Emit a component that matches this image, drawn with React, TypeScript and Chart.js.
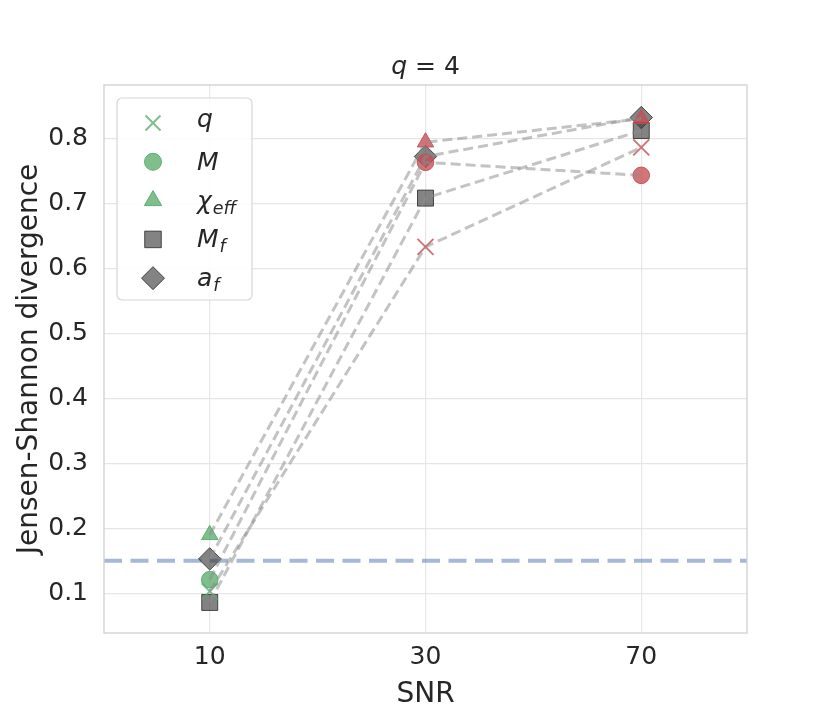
import React, { useEffect, useRef } from "react";
import { Chart, registerables } from "chart.js";

Chart.register(...registerables);

// ---- data ----
const snrLabels = ["10", "30", "70"];
const snrPositions = [0, 1, 2];
const qValues = [0.103, 0.633, 0.786];
const mValues = [0.121, 0.763, 0.743];
const chiValues = [0.19, 0.794, 0.83];
const mfValues = [0.086, 0.708, 0.812];
const afValues = [0.153, 0.772, 0.832];
// marker colour code per SNR point: g = green, r = red, k = gray
const qCodes = ["g", "r", "r"];
const mCodes = ["g", "r", "r"];
const chiCodes = ["g", "r", "r"];
const mfCodes = ["k", "k", "k"];
const afCodes = ["k", "k", "k"];
const threshold = 0.15;
const yTickValues = [0.1, 0.2, 0.3, 0.4, 0.5, 0.6, 0.7, 0.8];
const titleMain = "q";
const titleRest = "= 4";
const xTitle = "SNR";
const yTitle = "Jensen-Shannon divergence";

// ---- styles ----
const FONT = "'DejaVu Sans'";
const TEXT = "#262626";
const fill: Record<string, string> = {
  g: "rgba(85,168,104,0.75)",
  r: "rgba(196,78,82,0.78)",
  k: "rgba(64,64,64,0.65)",
};
const edge: Record<string, string> = {
  g: "rgba(85,168,104,0.9)",
  r: "rgba(196,78,82,0.9)",
  k: "rgba(40,40,40,0.8)",
};
const X_MIN = -0.49;
const X_MAX = 2.49;

type Series = {
  main: string;
  sub: string;
  values: number[];
  codes: string[];
  style: string;
  radius: number;
  legendCode: string;
};
const series: Series[] = [
  { main: "q", sub: "", values: qValues, codes: qCodes, style: "crossRot", radius: 11.3, legendCode: "g" },
  { main: "M", sub: "", values: mValues, codes: mCodes, style: "circle", radius: 8.3, legendCode: "g" },
  { main: "\u03C7", sub: "eff", values: chiValues, codes: chiCodes, style: "triangle", radius: 9.5, legendCode: "g" },
  { main: "M", sub: "f", values: mfValues, codes: mfCodes, style: "rect", radius: 11.3, legendCode: "k" },
  { main: "a", sub: "f", values: afValues, codes: afCodes, style: "rectRot", radius: 11.2, legendCode: "k" },
];

function drawMarker(ctx: CanvasRenderingContext2D, style: string, r: number, x: number, y: number, code: string) {
  ctx.save();
  ctx.fillStyle = fill[code];
  ctx.strokeStyle = edge[code];
  ctx.lineWidth = 1;
  ctx.beginPath();
  if (style === "circle") {
    ctx.arc(x, y, r, 0, Math.PI * 2);
    ctx.fill();
    ctx.stroke();
  } else if (style === "rect") {
    const s = Math.SQRT1_2 * r;
    ctx.rect(x - s, y - s, 2 * s, 2 * s);
    ctx.fill();
    ctx.stroke();
  } else if (style === "rectRot") {
    ctx.moveTo(x - r, y);
    ctx.lineTo(x, y - r);
    ctx.lineTo(x + r, y);
    ctx.lineTo(x, y + r);
    ctx.closePath();
    ctx.fill();
    ctx.stroke();
  } else if (style === "triangle") {
    let a = 0;
    ctx.moveTo(x + Math.sin(a) * r, y - Math.cos(a) * r);
    a += (2 * Math.PI) / 3;
    ctx.lineTo(x + Math.sin(a) * r, y - Math.cos(a) * r);
    a += (2 * Math.PI) / 3;
    ctx.lineTo(x + Math.sin(a) * r, y - Math.cos(a) * r);
    ctx.closePath();
    ctx.fill();
    ctx.stroke();
  } else {
    const o = Math.SQRT1_2 * r;
    ctx.strokeStyle = fill[code];
    ctx.lineWidth = 2;
    ctx.moveTo(x - o, y - o);
    ctx.lineTo(x + o, y + o);
    ctx.moveTo(x - o, y + o);
    ctx.lineTo(x + o, y - o);
    ctx.stroke();
  }
  ctx.restore();
}

const decorPlugin = {
  id: "decor",
  afterDatasetsDraw(chart: any) {
    const ctx: CanvasRenderingContext2D = chart.ctx;
    const { left, right, top, bottom } = chart.chartArea;
    ctx.save();
    // frame
    ctx.strokeStyle = "#cfcfcf";
    ctx.lineWidth = 1.3;
    ctx.strokeRect(left, top, right - left, bottom - top);

    // title
    ctx.fillStyle = TEXT;
    ctx.textBaseline = "alphabetic";
    ctx.font = `italic 25px ${FONT}`;
    const w1 = ctx.measureText(titleMain).width;
    ctx.font = `25px ${FONT}`;
    const gap = 8;
    const w2 = ctx.measureText(titleRest).width;
    const cx = (left + right) / 2;
    const tx = cx - (w1 + gap + w2) / 2;
    ctx.font = `italic 25px ${FONT}`;
    ctx.textAlign = "left";
    ctx.fillText(titleMain, tx, top - 11);
    ctx.font = `25px ${FONT}`;
    ctx.fillText(titleRest, tx + w1 + gap, top - 11);

    // axis titles
    ctx.font = `28px ${FONT}`;
    ctx.textAlign = "center";
    ctx.fillText(xTitle, cx, 702);
    ctx.save();
    ctx.translate(37, (top + bottom) / 2);
    ctx.rotate(-Math.PI / 2);
    ctx.fillText(yTitle, 0, 0);
    ctx.restore();

    // legend
    const lx = left + 13;
    const ly = top + 13;
    const lw = 135;
    const lh = 202;
    ctx.beginPath();
    (ctx as any).roundRect(lx, ly, lw, lh, 5);
    ctx.fillStyle = "rgba(255,255,255,0.85)";
    ctx.fill();
    ctx.strokeStyle = "#d6d6d6";
    ctx.lineWidth = 1.2;
    ctx.stroke();
    const step = 38.8;
    series.forEach((s, i) => {
      const y = ly + 25 + i * step;
      const mr = s.style === "rectRot" ? 11.5 : s.style === "triangle" ? 10 : s.style === "circle" ? 8.5 : s.style === "rect" ? 11.7 : 10.6;
      drawMarker(ctx, s.style, mr, lx + 36, y, s.legendCode);
      ctx.fillStyle = TEXT;
      ctx.textAlign = "left";
      ctx.font = `italic 25px ${FONT}`;
      const base = y + (s.main === "q" ? 4 : 8);
      const tx0 = lx + 80;
      ctx.fillText(s.main, tx0, base);
      if (s.sub) {
        const mw = ctx.measureText(s.main).width;
        ctx.font = `italic 17.5px ${FONT}`;
        ctx.fillText(s.sub, tx0 + mw + 1, base + 5);
      }
    });
    ctx.restore();
  },
};

export default function App() {
  const ref = useRef<HTMLCanvasElement>(null);
  useEffect(() => {
    document.body.style.margin = "0";
    Chart.defaults.font.family = FONT;
    Chart.defaults.color = TEXT;

    const lineSets = series.map((s) => ({
      data: snrPositions.map((x, i) => ({ x, y: s.values[i] })),
      showLine: true,
      borderColor: "rgba(140,140,140,0.52)",
      borderWidth: 3,
      borderDash: [10, 5],
      pointRadius: 0,
      pointHoverRadius: 0,
      fill: false,
      order: 0,
    }));
    const markerSets = series.map((s) => ({
      data: snrPositions.map((x, i) => ({ x, y: s.values[i] })),
      showLine: false,
      pointStyle: s.style,
      pointRadius: s.radius,
      pointHoverRadius: s.radius,
      pointBackgroundColor: s.codes.map((c) => fill[c]),
      pointBorderColor: s.codes.map((c) => (s.style === "crossRot" ? fill[c] : edge[c])),
      pointBorderWidth: s.style === "crossRot" ? 2 : 1,
      order: 1,
    }));
    const thresholdSet = {
      data: [
        { x: X_MIN, y: threshold },
        { x: X_MAX, y: threshold },
      ],
      showLine: true,
      borderColor: "rgba(76,114,176,0.5)",
      borderWidth: 4,
      borderDash: [18, 8.5],
      pointRadius: 0,
      pointHoverRadius: 0,
      order: 2,
    };

    const chart = new Chart(ref.current as HTMLCanvasElement, {
      type: "scatter",
      data: { datasets: [...lineSets, ...markerSets, thresholdSet] as any },
      options: {
        animation: false,
        responsive: false,
        events: [],
        layout: { padding: { top: 85, right: 83, bottom: 0, left: 0 } },
        plugins: { legend: { display: false }, title: { display: false }, tooltip: { enabled: false } },
        scales: {
          x: {
            type: "linear",
            min: X_MIN,
            max: X_MAX,
            afterBuildTicks: (s: any) => {
              s.ticks = snrPositions.map((v) => ({ value: v }));
            },
            afterFit: (s: any) => {
              s.height = 79;
            },
            ticks: {
              callback: (v: any) => snrLabels[snrPositions.indexOf(Number(v))] ?? "",
              font: { size: 25, family: FONT },
              color: TEXT,
              padding: 9,
              maxRotation: 0,
            },
            grid: { color: "#e6e6e6", lineWidth: 1.2, drawTicks: false },
            border: { display: false },
          },
          y: {
            type: "linear",
            min: 0.039,
            max: 0.882,
            afterBuildTicks: (s: any) => {
              s.ticks = yTickValues.map((v) => ({ value: v }));
            },
            afterFit: (s: any) => {
              s.width = 104;
            },
            ticks: {
              callback: (v: any) => Number(v).toFixed(1),
              font: { size: 25, family: FONT },
              color: TEXT,
              padding: 16,
            },
            grid: { color: "#e6e6e6", lineWidth: 1.2, drawTicks: false },
            border: { display: false },
          },
        },
      },
      plugins: [decorPlugin],
    });
    return () => chart.destroy();
  }, []);
  return (
    <div style={{ width: 830, height: 712 }}>
      <canvas ref={ref} width={830} height={712} style={{ display: "block", width: 830, height: 712 }} />
    </div>
  );
}
